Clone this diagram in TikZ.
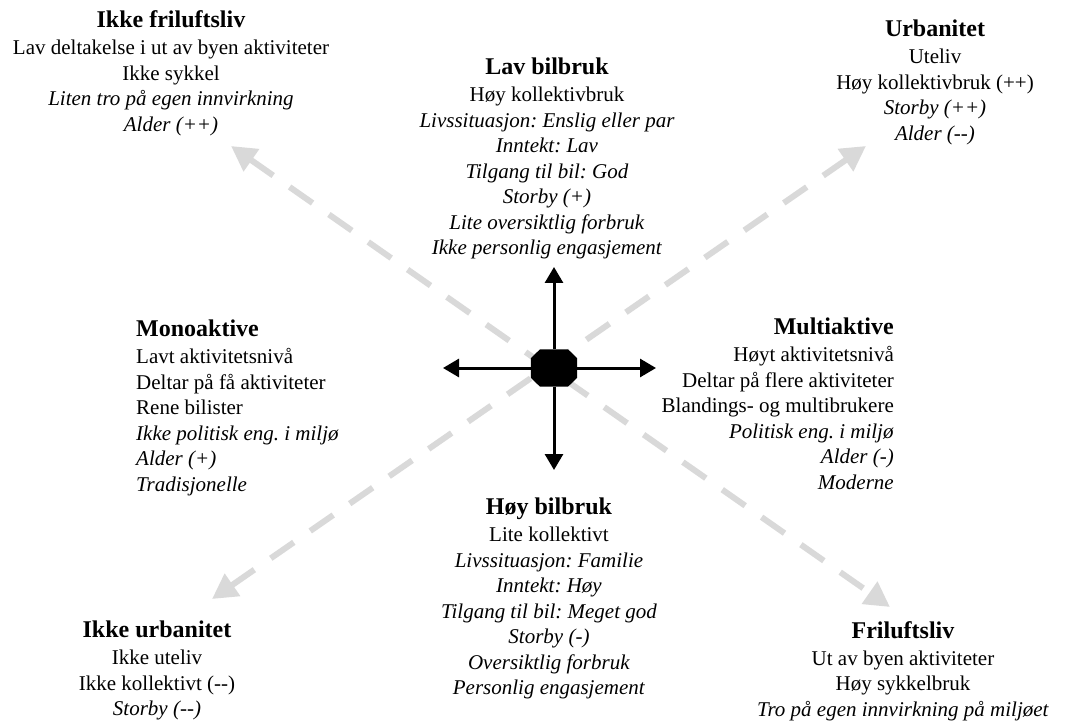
\documentclass[tikz,border=0pt]{standalone}
\usepackage{fontspec}
\setmainfont{Liberation Serif}
\usetikzlibrary{arrows.meta}
\frenchspacing
\newcommand{\grp}[1]{{\bfseries\fontsize{24}{25.5}\selectfont #1}\\[1.5pt]}
\newcommand{\mm}{\mbox{-}\mbox{-}}
\begin{document}
\begin{tikzpicture}[x=1pt,y=-1pt,
    txt/.style={inner sep=0pt,align=center,anchor=north,font=\fontsize{21}{25.5}\selectfont},
    axis/.style={line width=3pt,-{Triangle[width=18pt,length=16pt]}},
    trend/.style={line width=6pt,draw=gray!30,dash pattern=on 28pt off 20pt,
                  {Triangle[width=26pt,length=25pt]}-{Triangle[width=26pt,length=25pt]}}]
  \tikzstyle{hub}=[inner sep=0pt,minimum width=46pt,minimum height=37pt]
  \useasboundingbox (0,0) rectangle (1069,722);

  % ends of the two trend lines
  \coordinate (nw) at (231,146);
  \coordinate (se) at (890,607);
  \coordinate (sw) at (212,599);
  \coordinate (ne) at (866,146);
  \draw[trend] (nw) -- (se);
  \draw[trend] (sw) -- (ne);

  % the cross in the middle
  \coordinate (upTip) at (554,267);
  \coordinate (downTip) at (554,470);
  \coordinate (leftTip) at (443,368);
  \coordinate (rightTip) at (656,368);
  \node[hub] (center) at (554,368) {};
  \fill ([xshift=-14pt]center.north) -- ([xshift=14pt]center.north) -- ([yshift=-9pt]center.north east)
    -- ([yshift=9pt]center.south east) -- ([xshift=14pt]center.south) -- ([xshift=-14pt]center.south)
    -- ([yshift=9pt]center.south west) -- ([yshift=-9pt]center.north west) -- cycle;
  \draw[axis] (center) -- (upTip);
  \draw[axis] (center) -- (downTip);
  \draw[axis] (center) -- (leftTip);
  \draw[axis] (center) -- (rightTip);

  \node[txt] (ikkeFri) at (171,10.5) {\grp{Ikke friluftsliv}Lav deltakelse i ut av byen aktiviteter\\
    Ikke sykkel\\\textit{Liten tro på egen innvirkning}\\\textit{Alder (++)}};
  \node[txt] (lavBil) at (547,58) {\grp{Lav bilbruk}Høy kollektivbruk\\
    \textit{Livssituasjon: Enslig eller par}\\\textit{Inntekt: Lav}\\\textit{Tilgang til bil: God}\\
    \textit{Storby (+)}\\\textit{Lite oversiktlig forbruk}\\\textit{Ikke personlig engasjement}};
  \node[txt] (urb) at (935,20) {\grp{Urbanitet}Uteliv\\Høy kollektivbruk (++)\\
    \textit{Storby (++)}\\\textit{Alder (\mm)}};
  \node[txt,anchor=north west,align=left] (mono) at (136,320) {\grp{Monoaktive}Lavt aktivitetsnivå\\
    Deltar på få aktiviteter\\Rene bilister\\\textit{Ikke politisk eng. i miljø}\\
    \textit{Alder (+)}\\\textit{Tradisjonelle}};
  \node[txt,anchor=north east,align=right] (multi) at (894,318) {\grp{Multiaktive}Høyt aktivitetsnivå\\
    Deltar på flere aktiviteter\\Blandings- og multibrukere\\\textit{Politisk eng. i miljø}\\
    \textit{Alder (-)}\\\textit{Moderne}};
  \node[txt] (hoyBil) at (549,498) {\grp{Høy bilbruk}Lite kollektivt\\
    \textit{Livssituasjon: Familie}\\\textit{Inntekt: Høy}\\\textit{Tilgang til bil: Meget god}\\
    \textit{Storby (-)}\\\textit{Oversiktlig forbruk}\\\textit{Personlig engasjement}};
  \node[txt] (ikkeUrb) at (157,621) {\grp{Ikke urbanitet}Ikke uteliv\\Ikke kollektivt (\mm)\\
    \textit{Storby (\mm)}};
  \node[txt] (fri) at (903,621) {\grp{Friluftsliv}Ut av byen aktiviteter\\Høy sykkelbruk\\
    \textit{Tro på egen innvirkning på miljøet}};
\end{tikzpicture}
\end{document}
